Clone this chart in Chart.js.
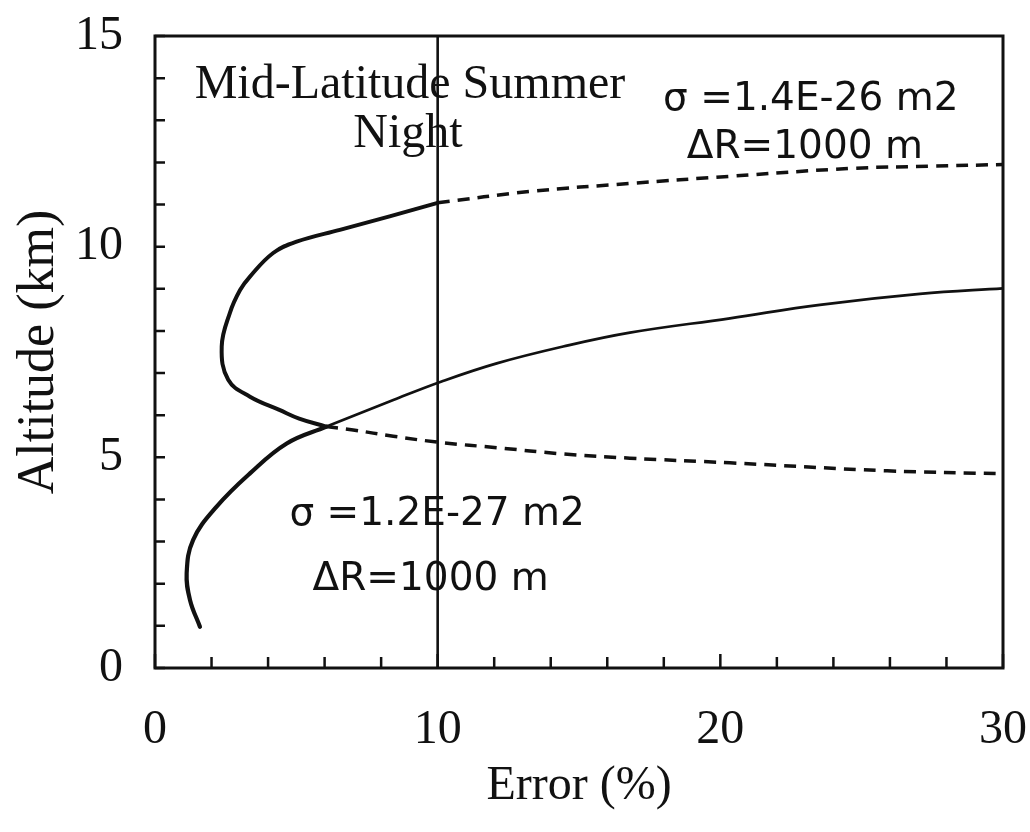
<!DOCTYPE html>
<html>
<head>
<meta charset="utf-8">
<script src="https://cdn.jsdelivr.net/npm/chart.js@4"></script>
<style>
  html, body { margin: 0; padding: 0; background: #fff; }
  #wrap { width: 1030px; height: 832px; }
</style>
</head>
<body>
<div id="wrap"><canvas id="errChart" width="1030" height="832"></canvas></div>
<script>
// axis ranges and tick steps
const errRange = [0, 30];
const altRange = [0, 15];
const errLabelEvery = 10;
const altLabelEvery = 5;
const thresholdErr = 10;

// sigma = 1.4E-26 m2 : solid loop (error below threshold)
const loopErr = [6.05, 5.1, 4.42, 3.36, 2.59, 2.36, 2.65, 3.01, 3.36, 4.18, 5.01, 6.54, 8.3, 10.0];
const loopAlt = [5.73, 5.92, 6.12, 6.44, 6.84, 7.63, 8.43, 8.97, 9.29, 9.85, 10.12, 10.40, 10.72, 11.04];
// upper dashed branch
const upperErr = [10.0, 13.27, 16.8, 20.34, 24.7, 27.5, 30];
const upperAlt = [11.04, 11.31, 11.5, 11.67, 11.86, 11.91, 11.95];
// lower dashed branch
const lowerErr = [6.05, 7.01, 8.43, 10.14, 12.09, 14.44, 16.8, 20.34, 25.9, 30];
const lowerAlt = [5.73, 5.65, 5.5, 5.35, 5.23, 5.08, 4.98, 4.87, 4.68, 4.61];

// sigma = 1.2E-27 m2
const lowErrThick = [1.59, 1.24, 1.12, 1.35, 2.18, 3.36, 4.66, 6.07];
const lowAltThick = [0.98, 1.61, 2.25, 3.04, 3.83, 4.62, 5.33, 5.73];
const lowErrThin = [6.07, 8.43, 10.14, 12.09, 14.44, 16.8, 20.34, 23.52, 27.06, 30];
const lowAltThin = [5.73, 6.36, 6.80, 7.23, 7.63, 7.96, 8.30, 8.62, 8.88, 9.01];

// text notes, placed in data units
const notes = [
    { text: 'Mid-Latitude Summer', x: 9.02, y: 13.53, font: '48px "Liberation Serif"' },
    { text: 'Night', x: 8.95, y: 12.37, font: '48px "Liberation Serif"' },
    { text: 'σ =1.4E-26 m2', x: 23.2, y: 13.24, font: '39px "DejaVu Sans"' },
    { text: 'ΔR=1000 m', x: 22.99, y: 12.1, font: '39px "DejaVu Sans"' },
    { text: 'σ =1.2E-27 m2', x: 9.98, y: 3.4, font: '39px "DejaVu Sans"' },
    { text: 'ΔR=1000 m', x: 9.75, y: 1.85, font: '39px "DejaVu Sans"' }
];

const ink = '#111';

function pts(xs, ys) {
    return xs.map((x, i) => ({ x: x, y: ys[i] }));
}

function lineSet(xs, ys, width, dash) {
    return {
        data: pts(xs, ys),
        showLine: true,
        borderColor: ink,
        borderWidth: width,
        borderDash: dash || [],
        borderCapStyle: dash ? 'butt' : 'round',
        borderJoinStyle: 'round',
        tension: 0.4,
        pointRadius: 0,
        fill: false
    };
}

// frame, inward tick marks and text notes
const framePlugin = {
    id: 'frame',
    beforeDatasetsDraw(chart) {
        const { ctx, scales } = chart;
        ctx.save();
        ctx.fillStyle = ink;
        ctx.textAlign = 'center';
        ctx.textBaseline = 'alphabetic';
        notes.forEach(n => {
            ctx.font = n.font;
            ctx.fillText(n.text, scales.x.getPixelForValue(n.x), scales.y.getPixelForValue(n.y));
        });
        ctx.restore();
    },
    afterDraw(chart) {
        const { ctx, chartArea: a, scales } = chart;
        ctx.save();
        ctx.strokeStyle = ink;
        ctx.lineWidth = 2.5;
        ctx.beginPath();
        scales.x.ticks.forEach(t => {
            const px = scales.x.getPixelForValue(t.value);
            const len = t.value % errLabelEvery === 0 ? 14 : 11;
            ctx.moveTo(px, a.bottom);
            ctx.lineTo(px, a.bottom - len);
        });
        scales.y.ticks.forEach(t => {
            const py = scales.y.getPixelForValue(t.value);
            ctx.moveTo(a.left, py);
            ctx.lineTo(a.left + 10, py);
        });
        ctx.stroke();
        ctx.lineWidth = 3;
        ctx.strokeRect(a.left, a.top, a.right - a.left, a.bottom - a.top);
        ctx.restore();
    }
};

new Chart(document.getElementById('errChart').getContext('2d'), {
    type: 'scatter',
    data: {
        datasets: [
            lineSet([thresholdErr, thresholdErr], [altRange[0], altRange[1]], 2.6),
            lineSet(loopErr, loopAlt, 4),
            lineSet(upperErr, upperAlt, 3.5, [12, 8]),
            lineSet(lowerErr, lowerAlt, 3.5, [12, 8]),
            lineSet(lowErrThick, lowAltThick, 4.2),
            lineSet(lowErrThin, lowAltThin, 2.7)
        ]
    },
    options: {
        responsive: false,
        animation: false,
        layout: { padding: { top: 36, right: 27, left: 0, bottom: 0 } },
        plugins: {
            legend: { display: false },
            tooltip: { enabled: false }
        },
        scales: {
            x: {
                type: 'linear',
                min: errRange[0],
                max: errRange[1],
                afterFit: s => { s.height = 164; s.paddingLeft = 0; s.paddingRight = 0; },
                grid: { display: false },
                border: { display: false },
                ticks: {
                    stepSize: 2,
                    autoSkip: false,
                    maxRotation: 0,
                    padding: 26,
                    color: ink,
                    font: { family: '"Liberation Serif"', size: 48 },
                    callback: v => (v % errLabelEvery === 0 ? v : '')
                },
                title: {
                    display: true,
                    text: 'Error (%)',
                    color: ink,
                    font: { family: '"Liberation Serif"', size: 48 },
                    padding: { top: 0, bottom: 17 }
                }
            },
            y: {
                type: 'linear',
                min: altRange[0],
                max: altRange[1],
                afterFit: s => { s.width = 155; s.paddingTop = 0; s.paddingBottom = 0; },
                grid: { display: false },
                border: { display: false },
                ticks: {
                    stepSize: 1,
                    autoSkip: false,
                    padding: 24,
                    color: ink,
                    font: { family: '"Liberation Serif"', size: 48 },
                    callback: v => (v % altLabelEvery === 0 ? v : '')
                },
                title: {
                    display: true,
                    text: 'Altitude (km)',
                    color: ink,
                    font: { family: '"Liberation Serif"', size: 52 },
                    padding: { top: 8, bottom: 0 }
                }
            }
        }
    },
    plugins: [framePlugin]
});
</script>
</body>
</html>
